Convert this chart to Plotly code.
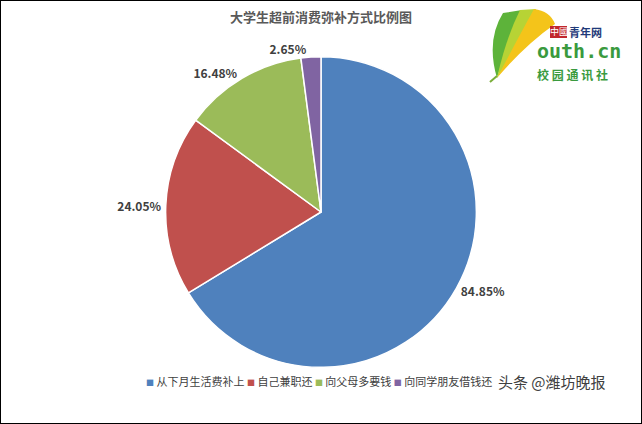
import plotly.graph_objects as go

categories = ["从下月生活费补上", "自己兼职还", "向父母多要钱", "向同学朋友借钱还"]
values = [84.85, 24.05, 16.48, 2.65]
value_labels = ["84.85%", "24.05%", "16.48%", "2.65%"]
colors = ["#4F81BD", "#C0504D", "#9BBB59", "#8064A2"]

FONT = "Noto Sans CJK SC, Noto Sans, sans-serif"
W, H = 642, 424


def px(x, y):
    """pixel position -> paper coords string (margins are 0)"""
    return f"{x / W:.4f} {1 - y / H:.4f}"


fig = go.Figure()
fig.add_trace(go.Pie(
    labels=categories,
    values=values,
    text=["<b>" + t + "</b>" for t in value_labels],
    textinfo="text",
    textposition="outside",
    hoverinfo="label+text",
    sort=False,
    direction="clockwise",
    rotation=0,
    marker=dict(colors=colors, line=dict(color="white", width=1.5)),
    outsidetextfont=dict(family=FONT, size=12, color="#404040"),
    domain=dict(x=[0.258, 0.742], y=[0.133, 0.867]),
    showlegend=False,
))

# legend built from the category / colour arrays
legend_text = " ".join(
    f"<span style='color:{c};font-size:8px'>■</span> {name}"
    for name, c in zip(categories, colors)
)

leaf_green = "M " + px(497, 78) + " Q " + px(486, 40) + " " + px(503, 13) + \
             " L " + px(522, 10) + " Q " + px(508, 40) + " " + px(497, 78) + " Z"
leaf_light = "M " + px(497, 78) + " Q " + px(506, 38) + " " + px(520, 10) + \
             " L " + px(536, 9) + " Q " + px(520, 42) + " " + px(497, 78) + " Z"
leaf_yellow = "M " + px(497, 78) + " Q " + px(518, 38) + " " + px(534, 9) + \
              " Q " + px(550, 11) + " " + px(555, 24) + " Q " + px(525, 45) + " " + px(497, 78) + " Z"
stem = "M " + px(497, 76) + " L " + px(490, 82)

fig.update_layout(
    width=W, height=H,
    margin=dict(l=0, r=0, t=0, b=0),
    paper_bgcolor="white",
    plot_bgcolor="white",
    font=dict(family=FONT, color="#404040"),
    title=dict(text="<b>大学生超前消费弥补方式比例图</b>", x=0.5, xanchor="center",
               y=1 - 17 / H, yanchor="middle",
               font=dict(family=FONT, size=13, color="#595959")),
    shapes=[
        dict(type="rect", xref="paper", yref="paper", x0=0, x1=1, y0=0, y1=1,
             line=dict(color="black", width=2), fillcolor="rgba(0,0,0,0)"),
        dict(type="path", xref="paper", yref="paper", path=leaf_green,
             fillcolor="#5DB33A", line=dict(width=0)),
        dict(type="path", xref="paper", yref="paper", path=leaf_light,
             fillcolor="#B7D335", line=dict(width=0)),
        dict(type="path", xref="paper", yref="paper", path=leaf_yellow,
             fillcolor="#F4C41A", line=dict(width=0)),
        dict(type="path", xref="paper", yref="paper", path=stem,
             line=dict(color="#7AAE3A", width=2)),
        dict(type="rect", xref="paper", yref="paper",
             x0=550 / W, x1=567 / W, y0=1 - 38 / H, y1=1 - 26 / H,
             fillcolor="#C1272D", line=dict(width=0)),
    ],
    annotations=[
        dict(text=legend_text, x=319 / W, y=1 - 381 / H, xref="paper", yref="paper",
             showarrow=False, xanchor="center", yanchor="middle",
             font=dict(family=FONT, size=11, color="#404040")),
        dict(text="中國", x=558.5 / W, y=1 - 32 / H, xref="paper", yref="paper", showarrow=False,
             xanchor="center", yanchor="middle",
             font=dict(family=FONT, size=9, color="white")),
        dict(text="<b>青年网</b>", x=567 / W, y=1 - 32 / H, xref="paper", yref="paper", showarrow=False,
             xanchor="left", yanchor="middle",
             font=dict(family="Noto Sans CJK SC", size=11, color="#1F3A7A")),
        dict(text="<b>outh.cn</b>", x=535 / W, y=1 - 51 / H, xref="paper", yref="paper", showarrow=False,
             xanchor="left", yanchor="middle",
             font=dict(family="DejaVu Sans Mono, monospace", size=20, color="#3A9A3E")),
        dict(text="<b>校 园 通 讯 社</b>", x=535 / W, y=1 - 74 / H, xref="paper", yref="paper",
             showarrow=False, xanchor="left", yanchor="middle",
             font=dict(family="Noto Sans CJK SC", size=12, color="#3A9A3E")),
        dict(text="头条 @潍坊晚报", x=496 / W, y=1 - 381 / H, xref="paper", yref="paper", showarrow=False,
             xanchor="left", yanchor="middle",
             font=dict(family=FONT, size=15, color="#404040")),
    ],
)

fig.write_html("out.html", config={"displayModeBar": False},
               post_script="document.body.style.margin='0';document.body.style.overflow='hidden';")
